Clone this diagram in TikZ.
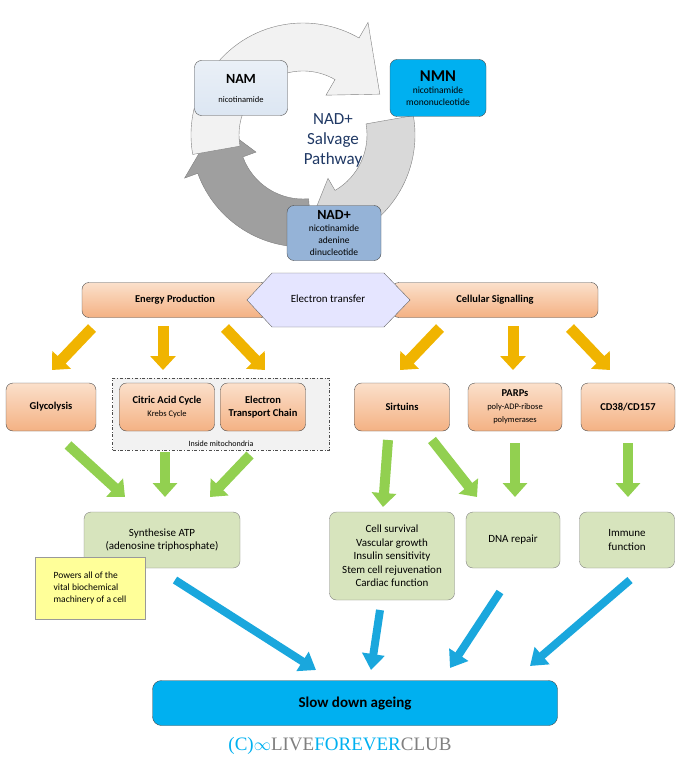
\documentclass[tikz,border=0pt]{standalone}
\usepackage{fontspec}
\setmainfont{Carlito}
\newfontfamily\logofont{Liberation Serif}
\usetikzlibrary{arrows.meta,shapes.geometric,positioning,calc}

\definecolor{navytext}{HTML}{1F3864}
\definecolor{peach}{HTML}{F4B183}
\definecolor{peachlight}{HTML}{FBE0CB}
\definecolor{sagegreen}{HTML}{D7E4BD}
\definecolor{skyblue}{HTML}{00B0F0}
\definecolor{nadblue}{HTML}{95B3D7}
\definecolor{namblue}{HTML}{DCE6F2}
\definecolor{arrowblue}{HTML}{1AA7DD}
\definecolor{goldarrow}{HTML}{F0B400}
\definecolor{leafgreen}{HTML}{92D050}
\definecolor{notebg}{HTML}{FFFF99}

\tikzset{
  box/.style={rounded corners=7pt, draw=black!70, align=center, inner sep=2pt},
  peachbox/.style={box, top color=peachlight, bottom color=peach, font=\bfseries\fontsize{10.5}{13}\selectfont},
  greenbox/.style={box, fill=sagegreen, draw=black!50, font=\fontsize{11}{13.5}\selectfont},
  orangearrow/.style={line width=11pt, goldarrow, -{Triangle[width=25pt,length=14pt]}},
  greenarrow/.style={line width=10pt, leafgreen, -{Triangle[width=24pt,length=14pt]}},
  bluearrow/.style={line width=8pt, arrowblue, -{Triangle[width=22pt,length=16pt]}},
}

\begin{document}
\begin{tikzpicture}[x=1pt,y=-1pt]
  \useasboundingbox (0,0) rectangle (684,762);

  % salvage cycle
  \coordinate (cc) at (303,135);
  \fill[gray!75, draw=gray] ($(cc)+(85:112)$) arc[start angle=85,end angle=160,radius=112]
     -- ($(cc)+(160:126)$) -- ($(cc)+(188:87)$) -- ($(cc)+(160:50)$) -- ($(cc)+(160:64)$)
     arc[start angle=160,end angle=85,radius=64] -- cycle;
  \fill[gray!30, draw=gray] ($(cc)+(350:112)$) arc[start angle=350,end angle=420,radius=112]
     -- ($(cc)+(420:126)$) -- ($(cc)+(445:87)$) -- ($(cc)+(420:50)$) -- ($(cc)+(420:64)$)
     arc[start angle=420,end angle=350,radius=64] -- cycle;
  \fill[gray!10, draw=gray] ($(cc)+(170:112)$) arc[start angle=170,end angle=300,radius=112]
     -- ($(cc)+(300:130)$) -- ($(cc)+(332:87)$) -- ($(cc)+(300:46)$) -- ($(cc)+(300:64)$)
     arc[start angle=300,end angle=170,radius=64] -- cycle;

  \node[font=\fontsize{17}{20}\selectfont, text=navytext, align=center] (title) at (333,140) {NAD+\\Salvage\\Pathway};
  \node[box, minimum width=93pt, minimum height=55pt, top color=namblue!60, bottom color=namblue] (nam) at (241,88)
    {\textbf{\fontsize{14}{16}\selectfont NAM}\\[7pt]\fontsize{8.5}{10}\selectfont nicotinamide};
  \node[box, minimum width=96pt, minimum height=57pt, fill=skyblue] (nmn) at (438,88)
    {\textbf{\fontsize{16.5}{18}\selectfont NMN}\\\fontsize{9.5}{11}\selectfont nicotinamide\\\fontsize{9.5}{11}\selectfont mononucleotide};
  \node[box, minimum width=94pt, minimum height=55pt, fill=nadblue] (nad) at (334,233)
    {\textbf{\fontsize{14}{15}\selectfont NAD+}\\\fontsize{9.5}{11}\selectfont nicotinamide\\\fontsize{9.5}{11}\selectfont adenine\\\fontsize{9.5}{11}\selectfont dinucleotide};

  % middle band
  \node[peachbox, minimum width=186pt, minimum height=35pt] (energy) at (175,300) {Energy Production};
  \node[peachbox, minimum width=206pt, minimum height=35pt] (signal) at (495,300) {Cellular Signalling};
  \fill[blue!10, draw=black!60] (247,300) -- (272,273) -- (384,273) -- (410,300) -- (384,327) -- (272,327) -- cycle;
  \node[font=\fontsize{11}{13}\selectfont] (etrans) at (328,299) {Electron transfer};

  % mitochondria frame
  \node[draw=black!70, dash dot, fill=gray!10, minimum width=217pt, minimum height=72pt] (mito) at (221,414) {};
  \node[font=\fontsize{8}{9}\selectfont, above=0pt of mito.south] (mitolbl) {Inside mitochondria};

  \node[peachbox, minimum width=90pt, minimum height=48pt] (glyco) at (51,407) {Glycolysis};
  \node[peachbox, minimum width=95pt, minimum height=48pt] (krebs) at (167,407) {Citric Acid Cycle\\\mdseries\fontsize{8.5}{10}\selectfont Krebs Cycle};
  \node[peachbox, minimum width=85pt, minimum height=48pt] (etc) at (263,407) {Electron\\Transport Chain};
  \node[peachbox, minimum width=95pt, minimum height=48pt] (sirt) at (402,407) {Sirtuins};
  \node[peachbox, minimum width=94pt, minimum height=48pt] (parp) at (515,407) {PARPs\\\mdseries\fontsize{8.5}{10}\selectfont poly-ADP-ribose\\\mdseries\fontsize{8.5}{10}\selectfont polymerases};
  \node[peachbox, minimum width=94pt, minimum height=48pt] (cd) at (628,407) {CD38/CD157};

  % orange arrows
  \draw[orangearrow] (92,328) -- (52,370);
  \draw[orangearrow] (163,326) -- (163,370);
  \draw[orangearrow] (225,328) -- (265,370);
  \draw[orangearrow] (440,328) -- (400,370);
  \draw[orangearrow] (513,326) -- (513,370);
  \draw[orangearrow] (570,328) -- (610,370);

  % lower boxes
  \node[greenbox, minimum width=156pt, minimum height=56pt] (atp) at (162,540) {Synthesise ATP\\(adenosine triphosphate)};
  \node[greenbox, minimum width=125pt, minimum height=88pt] (survive) at (392,556)
    {Cell survival\\Vascular growth\\Insulin sensitivity\\Stem cell rejuvenation\\Cardiac function};
  \node[greenbox, minimum width=94pt, minimum height=56pt] (dna) at (513,540) {DNA repair};
  \node[greenbox, minimum width=95pt, minimum height=56pt] (immune) at (627,540) {Immune\\function};
  \node[draw=black!40, fill=notebg, align=left, minimum width=110pt, minimum height=62pt,
        font=\fontsize{9.5}{12}\selectfont] (note) at (90,588) {Powers all of the\\vital biochemical\\machinery of a cell};

  % green arrows
  \draw[greenarrow] (68,445) -- (125,497);
  \draw[greenarrow] (165,452) -- (165,497);
  \draw[greenarrow] (250,455) -- (210,497);
  \draw[greenarrow] (388,440) -- (383,507);
  \draw[greenarrow] (432,440) -- (477,497);
  \draw[greenarrow] (515,443) -- (515,497);
  \draw[greenarrow] (628,443) -- (628,497);

  % blue arrows
  \draw[bluearrow] (175,580) -- (316,670);
  \draw[bluearrow] (380,610) -- (371,670);
  \draw[bluearrow] (500,592) -- (450,668);
  \draw[bluearrow] (630,580) -- (530,666);

  \node[box, rounded corners=9pt, minimum width=405pt, minimum height=45pt, fill=skyblue,
        font=\bfseries\fontsize{15}{17}\selectfont] (slow) at (355,703) {Slow down ageing};

  \node[font=\logofont\fontsize{19}{21}\selectfont] (logo) at (340,746)
    {\textcolor{skyblue}{(C)}\textcolor{skyblue}{$\infty$}\textcolor{gray}{LIVE}\textcolor{skyblue}{FOREVER}\textcolor{gray}{CLUB}};
\end{tikzpicture}
\end{document}
